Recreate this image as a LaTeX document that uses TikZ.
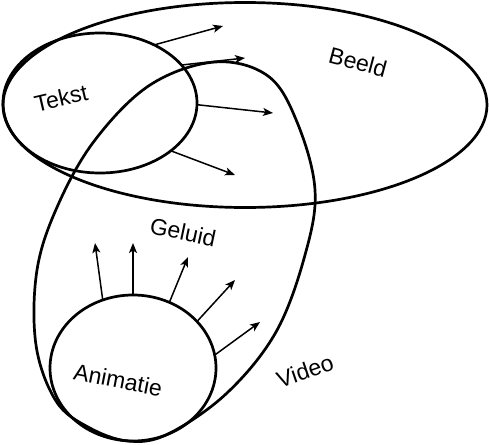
\documentclass[tikz,border=0pt]{standalone}
\usepackage{fontspec}
\setmainfont{Liberation Sans}
\usetikzlibrary{arrows.meta,shapes.geometric}

\begin{document}
\begin{tikzpicture}[
  x=1pt, y=-1pt,
  font=\fontsize{23}{27}\selectfont,
  setbox/.style={draw, ellipse, line width=2.7pt, outer sep=0pt, inner sep=0pt},
  arr/.style={-{Stealth[length=10pt,width=8pt,inset=2.5pt]}, line width=1.5pt},
  lbl/.style={inner sep=0pt}
]
\useasboundingbox (0,0) rectangle (489,444);

% the sets
\node[setbox, minimum width=484pt, minimum height=205pt] (beeld) at (245,105) {};
\node[setbox, minimum width=194pt, minimum height=140pt] (tekst) at (100,103) {};
\draw[line width=2.7pt] plot[smooth cycle, tension=0.6] coordinates {
  (215,62) (268,76) (297,122) (315,190) (305,255) (276,332) (227,393)
  (168,434) (128,441) (88,427) (56,401) (36,345) (37,270) (58,205)
  (95,140) (150,85)};
\node[setbox, minimum width=166pt, minimum height=146pt] (anim) at (133,368) {};

% labels
\node[lbl, rotate=13] (tekstlbl) at (61,98) {Tekst};
\node[lbl, rotate=-15] (beeldlbl) at (358,62) {Beeld};
\node[lbl, rotate=-12] (geluidlbl) at (183,232) {Geluid};
\node[lbl, rotate=-11] (animlbl) at (118,380) {Animatie};
\node[lbl, rotate=19] (videolbl) at (305,371) {Video};

% arrow tips
\coordinate (t1) at (223,26);
\coordinate (t2) at (245,58);
\coordinate (t3) at (273,113);
\coordinate (t4) at (235,175);
\coordinate (a1) at (95,243);
\coordinate (a2) at (133,243);
\coordinate (a3) at (188,257);
\coordinate (a4) at (235,280);
\coordinate (a5) at (260,322);

\draw[arr] (tekst.47) -- (t1);
\draw[arr] (tekst.25) -- (t2);
\draw[arr] (tekst.-1) -- (t3);
\draw[arr] (tekst.-34) -- (t4);
\draw[arr] (anim.114) -- (a1);
\draw[arr] (anim.90) -- (a2);
\draw[arr] (anim.61) -- (a3);
\draw[arr] (anim.36) -- (a4);
\draw[arr] (anim.9) -- (a5);
\end{tikzpicture}
\end{document}
